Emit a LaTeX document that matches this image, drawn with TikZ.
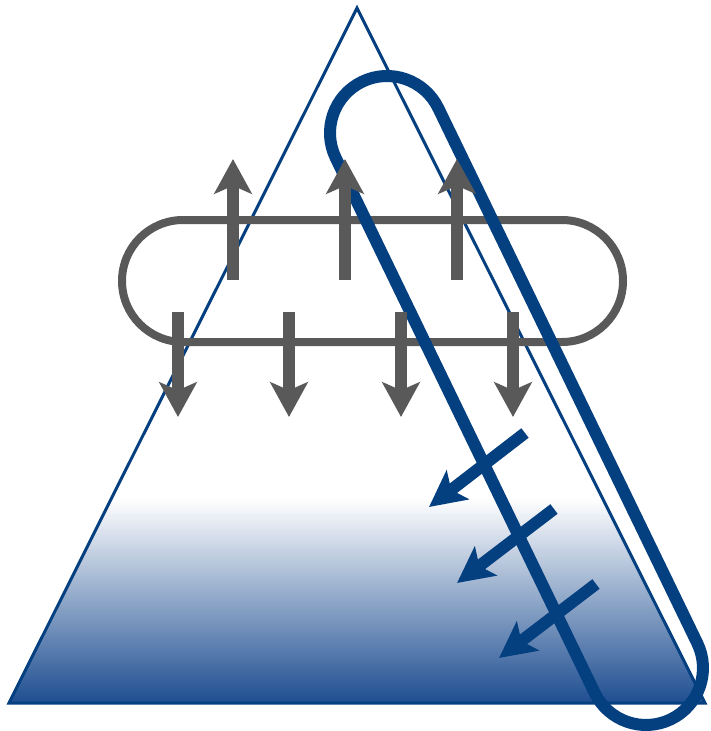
\documentclass[tikz,border=0pt]{standalone}
\usepackage{tikz}
\usetikzlibrary{arrows.meta}

\definecolor{triblue}{RGB}{4,63,128}
\definecolor{shadeblue}{RGB}{30,78,145}
\definecolor{loopgray}{RGB}{89,89,89}

\begin{document}
\begin{tikzpicture}[
  x=0.75pt, y=-0.75pt,
  tri/.style={draw=triblue, line width=2.25pt},
  grayloop/.style={draw=loopgray, line width=6pt, rounded corners=45.75pt},
  blueloop/.style={draw=triblue, line width=9pt, rounded corners=42.75pt},
  grayarr/.style={draw=loopgray, line width=9pt, -{Stealth[length=26pt, width=28pt, inset=6pt]}},
  bluearr/.style={draw=triblue, line width=9pt, -{Stealth[length=27pt, width=27pt, inset=6pt]}}
]
  \useasboundingbox (0,0) rectangle (710,731);

  % Triangle, shaded towards its base
  \coordinate (apex) at (357,8);
  \coordinate (baseL) at (9,703);
  \coordinate (baseR) at (705,703);
  \fill[white] (apex) -- (baseL) -- (baseR) -- cycle;
  \begin{scope}
    \clip (apex) -- (baseL) -- (baseR) -- cycle;
    \fill[top color=white, bottom color=shadeblue] (0,498) rectangle (710,703);
  \end{scope}
  \draw[tri] (apex) -- (baseL) -- (baseR) -- cycle;

  % Horizontal gray loop
  \draw[grayloop] (122,220) rectangle (623,342);

  % Tilted blue loop, parallel to the right side
  \draw[blueloop, rotate around={-64.17:(387,133)}] (330,76) rectangle (1038.4,190);

  % Gray arrows: up through the top, down through the bottom
  \draw[grayarr] (233,280) -- (233,159);
  \draw[grayarr] (345,280) -- (345,159);
  \draw[grayarr] (457,280) -- (457,159);
  \draw[grayarr] (178,312) -- (178,417);
  \draw[grayarr] (289,312) -- (289,417);
  \draw[grayarr] (401,312) -- (401,417);
  \draw[grayarr] (513,312) -- (513,417);

  % Blue arrows leaving the loop
  \draw[bluearr] (525,433) -- (429,507);
  \draw[bluearr] (554,509) -- (457,583);
  \draw[bluearr] (596,584) -- (499,658);

\end{tikzpicture}
\end{document}
